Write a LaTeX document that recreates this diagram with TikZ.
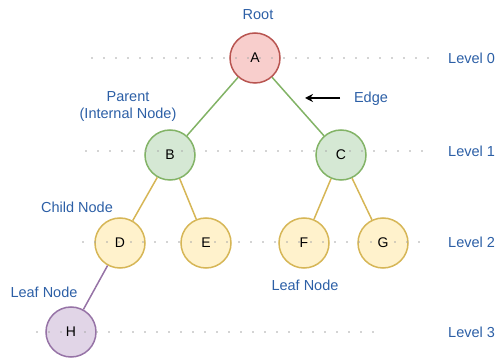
\documentclass[tikz,border=0pt]{standalone}
\usepackage{fontspec}
\setmainfont{Liberation Sans}
\usetikzlibrary{arrows.meta}
\definecolor{redfill}{HTML}{F8CECC}
\definecolor{reddraw}{HTML}{B85450}
\definecolor{greenfill}{HTML}{D5E8D4}
\definecolor{greendraw}{HTML}{82B366}
\definecolor{yellowfill}{HTML}{FFF2CC}
\definecolor{yellowdraw}{HTML}{D6B656}
\definecolor{purplefill}{HTML}{E1D5E7}
\definecolor{purpledraw}{HTML}{9673A6}
\definecolor{labelblue}{HTML}{2C5FA6}
\definecolor{dotgray}{HTML}{A8A8A8}
\tikzset{
  treenode/.style={circle, minimum size=50pt, inner sep=0pt, line width=1.5pt},
  rootnode/.style={treenode, fill=redfill, draw=reddraw},
  innernode/.style={treenode, fill=greenfill, draw=greendraw},
  lvltwonode/.style={treenode, fill=yellowfill, draw=yellowdraw},
  leafnode/.style={treenode, fill=purplefill, draw=purpledraw},
  letter/.style={font=\fontsize{14}{16}\selectfont, inner sep=0pt},
  lbl/.style={text=labelblue, font=\fontsize{14.5}{17}\selectfont, inner sep=0pt, align=center},
  levelline/.style={dotgray, line width=1.8pt, line cap=round, dash pattern=on 0pt off 12pt},
  edgeline/.style={line width=1.5pt}
}
\begin{document}
\begin{tikzpicture}[x=1pt,y=-1pt]
\useasboundingbox (0,0) rectangle (496,358);
% tree nodes
\node[rootnode]   (A) at (255,58)  {};
\node[innernode]  (B) at (170,155) {};
\node[innernode]  (C) at (341,155) {};
\node[lvltwonode] (D) at (120,243) {};
\node[lvltwonode] (E) at (206,243) {};
\node[lvltwonode] (F) at (304,243) {};
\node[lvltwonode] (G) at (383,243) {};
\node[leafnode]   (H) at (71,332)  {};
% edges
\draw[edgeline, greendraw] (A) -- (B);
\draw[edgeline, greendraw] (A) -- (C);
\draw[edgeline, yellowdraw] (B) -- (D);
\draw[edgeline, yellowdraw] (B) -- (E);
\draw[edgeline, yellowdraw] (C) -- (F);
\draw[edgeline, yellowdraw] (C) -- (G);
\draw[edgeline, purpledraw] (D) -- (H);
% level guide lines
\coordinate (l0a) at (92,58);  \coordinate (l0b) at (432,58);
\coordinate (l1a) at (86,151); \coordinate (l1b) at (424,151);
\coordinate (l2a) at (83,242); \coordinate (l2b) at (420,242);
\coordinate (l3a) at (37,332); \coordinate (l3b) at (374,332);
\draw[levelline] (l0a) -- (l0b);
\draw[levelline] (l1a) -- (l1b);
\draw[levelline] (l2a) -- (l2b);
\draw[levelline] (l3a) -- (l3b);
% node letters
\foreach \n in {A,B,C,D,E,F,G,H}
  \node[letter] at (\n) {\n};
% labels
\node[lbl] (root) at (258,15) {Root};
\node[lbl] (parent) at (128,107) {Parent\\(Internal Node)};
\node[lbl] (edge) at (371,99) {Edge};
\node[lbl] (child) at (77,207) {Child Node};
\node[lbl] (leafl) at (44,292) {Leaf Node};
\node[lbl] (leafr) at (305,285) {Leaf Node};
\node[lbl, anchor=west] (lv0) at (448,58) {Level 0};
\node[lbl, anchor=west] (lv1) at (448,151) {Level 1};
\node[lbl, anchor=west] (lv2) at (448,242) {Level 2};
\node[lbl, anchor=west] (lv3) at (448,332) {Level 3};
% pointer to an edge
\coordinate (arrs) at (340,98);
\coordinate (arre) at (305,98);
\draw[line width=1.5pt, -{Stealth[length=8pt,width=8pt]}] (arrs) -- (arre);
\end{tikzpicture}
\end{document}
